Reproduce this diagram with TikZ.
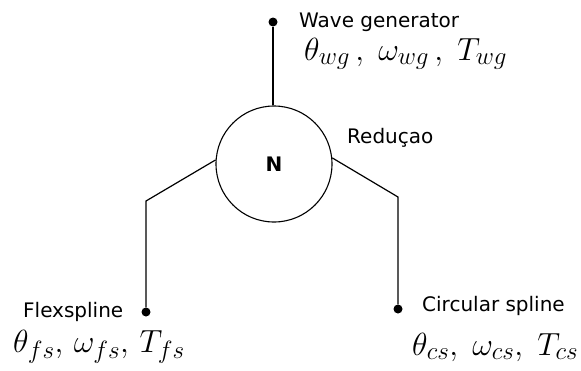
\RequirePackage{fix-cm}
\documentclass[tikz,border=0pt]{standalone}
\usepackage{fontspec}
\setsansfont{DejaVu Sans}
\DeclareMathSizes{32}{32}{25}{20}
\begin{document}
\begin{tikzpicture}[x=1pt,y=-1pt,
  wire/.style={draw=black,line width=1.2pt},
  dotnode/.style={circle,fill=black,inner sep=0pt,minimum size=9pt},
  lbl/.style={font=\sffamily\fontsize{20}{22}\selectfont,inner sep=0pt,anchor=base west},
  mth/.style={font=\fontsize{32}{34}\selectfont,inner sep=0pt,anchor=base west}]
\useasboundingbox (0,0) rectangle (581,370);
\node[circle,draw,line width=1.1pt,minimum size=116pt,inner sep=0pt,font=\sffamily\bfseries\fontsize{20}{22}\selectfont] (N) at (274,164) {N};
\node[dotnode] (wg) at (273,22) {};
\node[dotnode] (fs) at (146,312) {};
\node[dotnode] (cs) at (398,309) {};
\coordinate (lk) at (146,201);
\coordinate (rk) at (398,197);
\draw[wire] (wg) -- (N.north -| wg);
\draw[wire] (N.176) -- (lk) -- (fs);
\draw[wire] (N.6) -- (rk) -- (cs);
\node[lbl] (twg) at (299,27) {Wave generator};
\node[mth] (mwg) at (304,60) {$\theta_{wg}\,,\;\omega_{wg}\,,\;T_{wg}$};
\node[lbl] (tred) at (347,143) {Reduçao};
\node[lbl] (tfs) at (23,317) {Flexspline};
\node[mth] (mfs) at (13,352) {$\theta_{fs},\,\omega_{fs},\,T_{fs}$};
\node[lbl] (tcs) at (422,311) {Circular spline};
\node[mth] (mcs) at (412,355) {$\theta_{cs},\;\omega_{cs},\;T_{cs}$};
\end{tikzpicture}
\end{document}
